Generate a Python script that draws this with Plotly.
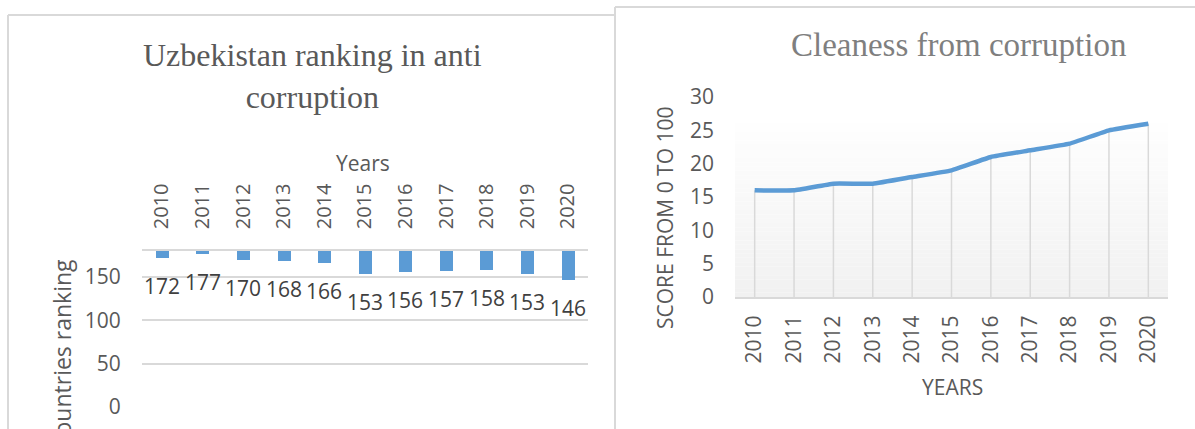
import plotly.graph_objects as go

# ---- data -------------------------------------------------------------
years = ["2010", "2011", "2012", "2013", "2014", "2015",
         "2016", "2017", "2018", "2019", "2020"]
ranking = [172, 177, 170, 168, 166, 153, 156, 157, 158, 153, 146]
score = [16, 16, 17, 17, 18, 19, 21, 22, 23, 25, 26]
rank_ticks = [0, 50, 100, 150]
score_ticks = [0, 5, 10, 15, 20, 25, 30]

# ---- page geometry (pixels) ------------------------------------------
W, H = 1195, 429
RANK_AXIS_MAX = 180          # category axis crosses the value axis here
BLUE = "#5B9BD5"
GRID = "#D9D9D9"
TXT = "#595959"
SANS = "Open Sans"
SERIF = "Liberation Serif"


def px(x):
    return x / W


def py(y):
    return 1 - y / H


fig = go.Figure()

# left: bars hanging from the top axis down to each ranking
fig.add_trace(go.Bar(
    x=years, y=[r - RANK_AXIS_MAX for r in ranking], base=RANK_AXIS_MAX,
    marker=dict(color=BLUE, line=dict(width=0)), width=0.32,
    xaxis="x", yaxis="y", showlegend=False, hoverinfo="skip",
))

# right: drop lines from the axis to each point
drop_x, drop_y = [], []
for yr, s in zip(years, score):
    drop_x += [yr, yr, None]
    drop_y += [0, s, None]
fig.add_trace(go.Scatter(
    x=drop_x, y=drop_y, mode="lines",
    line=dict(color=GRID, width=1.5),
    xaxis="x2", yaxis="y2", showlegend=False, hoverinfo="skip",
))
fig.add_trace(go.Scatter(
    x=years, y=score, mode="lines",
    line=dict(color=BLUE, width=4.5, shape="spline", smoothing=0.3),
    xaxis="x2", yaxis="y2", showlegend=False, hoverinfo="skip",
))

shapes = []
# faint vertical gradient behind the line chart
top_px, bot_px, left_px, right_px = 123, 297, 735, 1168
n = 40
for i in range(n):
    t = i / (n - 1)
    c = int(round(254 - 13 * t))
    y0 = top_px + (bot_px - top_px) * i / n
    y1 = top_px + (bot_px - top_px) * (i + 1) / n
    shapes.append(dict(type="rect", xref="paper", yref="paper",
                       x0=px(left_px), x1=px(right_px), y0=py(y1), y1=py(y0),
                       fillcolor=f"rgb({c},{c},{c})", line=dict(width=0),
                       layer="below"))

# chart frames
frame = dict(color=GRID, width=2)
shapes += [
    dict(type="line", xref="paper", yref="paper",
         x0=px(8), x1=px(615), y0=py(15), y1=py(15), line=frame),
    dict(type="line", xref="paper", yref="paper",
         x0=px(8), x1=px(8), y0=py(15), y1=py(440), line=frame),
    dict(type="line", xref="paper", yref="paper",
         x0=px(615), x1=px(1200), y0=py(7), y1=py(7), line=frame),
    dict(type="line", xref="paper", yref="paper",
         x0=px(615), x1=px(615), y0=py(7), y1=py(440), line=frame),
]

annotations = []
# value labels under each bar
for i, r in enumerate(ranking):
    annotations.append(dict(
        x=i, y=r, xref="x", yref="y", text=str(r), showarrow=False,
        yshift=-28, font=dict(family=SANS, size=21, color="#404040"),
    ))


def label(text, x, y, size, color=TXT, family=SANS, angle=0):
    annotations.append(dict(
        x=px(x), y=py(y), xref="paper", yref="paper", text=text,
        showarrow=False, textangle=angle, xanchor="center", yanchor="middle",
        font=dict(family=family, size=size, color=color),
    ))


label("Uzbekistan ranking in anti<br>corruption", 312, 76, 32,
      color="#595959", family=SERIF)
label("Cleaness from corruption", 958, 45, 33, color="#7F7F7F", family=SERIF)
label("Years", 363, 163, 21)
label("Countries ranking", 62, 355, 23, angle=-90)
label("YEARS", 952, 387, 21)
label("SCORE FROM 0 TO 100", 665, 218, 21, angle=-90)

tickfont = dict(family=SANS, size=21, color=TXT)

fig.update_layout(
    width=W, height=H, margin=dict(l=0, r=0, t=0, b=0, autoexpand=False),
    paper_bgcolor="white", plot_bgcolor="rgba(0,0,0,0)",
    bargap=0, shapes=shapes, annotations=annotations,
    xaxis=dict(
        domain=[px(141.7), px(588)], anchor="y", side="top",
        type="category", range=[-0.5, 10.5], tickangle=-90,
        showline=True, linecolor=GRID, linewidth=1.5, showgrid=False,
        ticks="", ticklabelstandoff=16, automargin=False,
        tickfont=dict(family=SANS, size=20, color=TXT), fixedrange=True,
    ),
    yaxis=dict(
        domain=[py(407), py(251)], anchor="x", range=[0, RANK_AXIS_MAX],
        tickvals=rank_ticks, showgrid=True, gridcolor=GRID, gridwidth=1.5,
        zeroline=False, showline=False, ticks="", ticklabelstandoff=20,
        automargin=False, tickfont=tickfont,
    ),
    xaxis2=dict(
        domain=[px(735), px(1168)], anchor="y2", type="category",
        range=[-0.5, 10.5], tickangle=-90, showline=True, linecolor=GRID,
        linewidth=2, showgrid=False, ticks="", ticklabelstandoff=8,
        automargin=False, tickfont=tickfont,
    ),
    yaxis2=dict(
        domain=[py(297), py(97)], anchor="x2", range=[0, 30],
        tickvals=score_ticks, showgrid=False, zeroline=False, showline=False,
        ticks="", ticklabelstandoff=20, automargin=False, tickfont=tickfont,
    ),
)

fig.write_html("out.html")
